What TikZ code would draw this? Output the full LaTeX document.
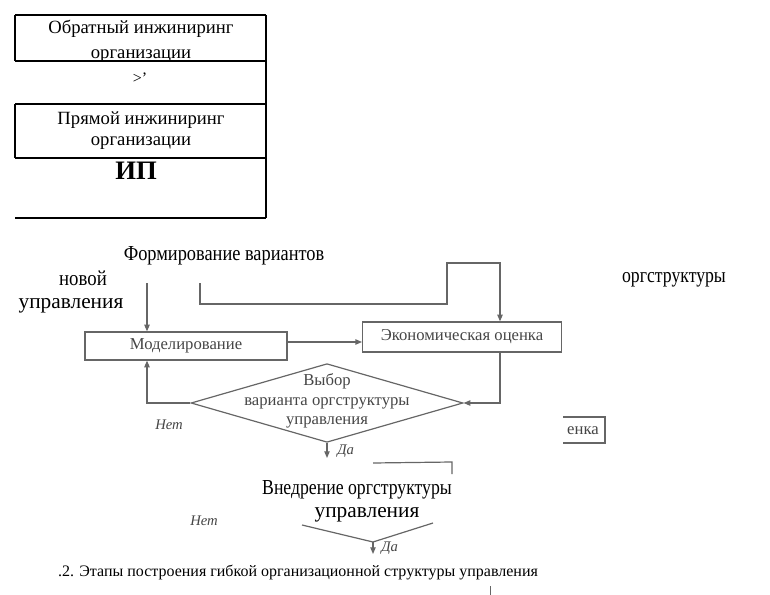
\documentclass[tikz,border=0pt]{standalone}
\usepackage{fontspec}
\setmainfont{Liberation Serif}
\usepackage{graphicx}
\usetikzlibrary{arrows.meta, positioning, shapes.geometric}
\definecolor{scanink}{HTML}{454545}
\definecolor{scanline}{HTML}{666666}

\begin{document}
\begin{tikzpicture}[x=0.75pt, y=-0.75pt,
  topline/.style={draw=black, line width=0.8pt},
  toptext/.style={font=\fontsize{14}{16}\selectfont, inner sep=0pt},
  overtext/.style={font=\fontsize{16}{18}\selectfont, inner sep=0pt},
  scanbox/.style={draw=scanline, line width=0.9pt, inner sep=0pt,
    font=\fontsize{12.5}{14}\selectfont, text=scanink},
  scantext/.style={font=\fontsize{12.5}{14.6}\selectfont, text=scanink, inner sep=0pt},
  scanlabel/.style={font=\fontsize{11}{13}\selectfont\itshape, text=scanink, inner sep=0pt},
  scanedge/.style={draw=scanline, line width=0.9pt},
  flow/.style={scanedge, -{Triangle[length=5pt, width=4pt]}}]

  \useasboundingbox (0,0) rectangle (770,595);

  %% Top boxes
  \foreach \y in {15,61,104,158,218}{
    \draw[topline] (15,\y) -- (266,\y);
  }
  \foreach \a/\b in {15/61,104/158}{
    \draw[topline] (15,\a) -- (15,\b);
  }
  \draw[topline] (266,15) -- (266,218);
  \node[toptext] (obrA) at (141,29) {Обратный инжиниринг};
  \node[toptext] (obrB) at (141,56) {организации};
  \node[font=\fontsize{12}{14}\selectfont, inner sep=0pt] (gt) at (140,78) {>'};
  \node[toptext] (prA) at (141,120) {Прямой инжиниринг};
  \node[toptext] (prB) at (141,143) {организации};
  \node[font=\fontsize{20}{22}\selectfont\bfseries, inner sep=0pt] (ip) at (136,171) {ИП};

  %% Scanned flowchart
  \node[scanbox, minimum width=151.5pt, minimum height=21pt] (model) at (186,346) {Моделирование};
  \node[scanbox, minimum width=149pt, minimum height=22.5pt] (econ) at (462,337) {Экономическая оценка};
  \node[draw=scanline, line width=0.9pt, diamond, minimum width=204pt, minimum height=59pt,
    inner sep=0pt] (choice) at (327,403) {};
  \node[scantext, align=center] (choicetxt) at (327,401) {Выбор\\варианта оргструктуры\\управления};

  \coordinate (novtop) at (147,283);
  \coordinate (loopstart) at (200,283);
  \coordinate (loopturn) at (500,263);
  \coordinate (yes1end) at (327,458);
  \draw[flow] (novtop) -- (novtop |- model.north);
  \draw[flow] (loopstart) |- (447,304) |- (loopturn) -- (loopturn |- econ.north);
  \draw[flow] ([yshift=3pt]model.east) -- ([yshift=3pt]model.east -| econ.west);
  \draw[flow] (econ.south -| loopturn) |- (choice.east);
  \draw[flow] (choice.west) -| (novtop |- model.south);
  \draw[flow] (choice.south) -- (yes1end);
  \node[scanlabel] (no1) at (169,425) {Нет};
  \node[scanlabel, anchor=west] (yes1) at (337,451) {Да};

  %% Fragments
  \draw[scanedge] (373,463) -- (452,462) -- (452,474);
  \draw[scanedge] (563,417) -- (605,417) -- (605,443) -- (563,443);
  \node[scantext] (enka) at (583,431) {енка};
  \coordinate (vleft) at (302,525);
  \coordinate (vmid) at (373,542);
  \coordinate (vright) at (433,523);
  \draw[scanedge] (vleft) -- (vmid) -- (vright);
  \draw[flow] (vmid) -- ++(0,12);
  \node[scanlabel] (no2) at (204,521) {Нет};
  \node[scanlabel, anchor=west] (yes2) at (381,548) {Да};
  \draw[scanedge, line width=0.6pt] (490,586) -- (490,595);

  %% Overlaid text
  \node[overtext] (form) at (224,256) {\scalebox{0.86}[1]{Формирование вариантов}};
  \node[overtext] (novoy) at (83,278) {\scalebox{0.88}[1]{новой}};
  \node[overtext] (uprA) at (71,306) {управления};
  \node[overtext] (orgs) at (674,280) {\scalebox{0.83}[1]{оргструктуры}};
  \node[overtext] (vnedr) at (357,490) {\scalebox{0.83}[1]{Внедрение оргструктуры}};
  \node[overtext] (uprB) at (367,515) {управления};
  \node[font=\fontsize{12}{14}\selectfont, inner sep=0pt] (caption) at (298,572)
    {.2. Этапы построения гибкой организационной структуры управления};

\end{tikzpicture}
\end{document}
